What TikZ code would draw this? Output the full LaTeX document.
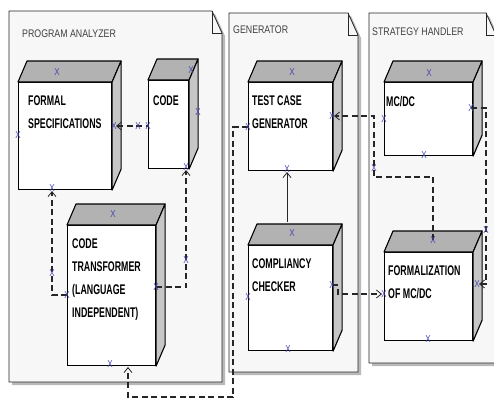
\documentclass[tikz,border=0pt]{standalone}
\usepackage{fontspec}
\setmainfont[FakeStretch=0.8, BoldFeatures={FakeStretch=0.63}]{Liberation Sans}
\usepackage{xcolor}
\usepackage{tikz}
\usetikzlibrary{arrows.meta}

\definecolor{portblue}{RGB}{70,70,175}
\tikzset{
  pkg/.style={draw=black!85, line width=0.8pt, fill=gray!6},
  pkgshadow/.style={fill=gray!55},
  pkgname/.style={anchor=west, inner sep=0, text=black!75, font=\fontsize{11}{13}\selectfont},
  front/.style={draw=black, line width=1.1pt, fill=white, inner sep=0, anchor=north west},
  topface/.style={draw=black, line width=1.1pt, fill=gray!60, line join=round},
  sideface/.style={draw=black, line width=1.1pt, fill=gray!45, line join=round},
  boxname/.style={anchor=north west, inner sep=0, align=left, text=black, font=\bfseries\fontsize{14}{23}\selectfont},
  port/.style={inner sep=0, text=portblue, font=\fontsize{10}{10}\selectfont},
  dep/.style={draw=black!85, line width=1.3pt, dash pattern=on 6pt off 3.5pt},
  link/.style={draw=black!85, line width=1pt},
  >={Straight Barb[length=5pt,width=8pt,line width=0.8pt]}
}

\begin{document}
\begin{tikzpicture}[x=1pt,y=-1pt]
\clip (0,0) rectangle (494,399);
\fill[white] (0,0) rectangle (494,399);

\foreach \xa/\ya/\xb/\yb in {9/11/222/382, 229/13/358/372, 369/13/496/363}{
  \fill[pkgshadow, shift={(3,3)}] (\xa,\ya) -- (\xb-10,\ya) -- (\xb,\ya+22) -- (\xb,\yb) -- (\xa,\yb) -- cycle;
  \draw[pkg] (\xa,\ya) -- (\xb-10,\ya) -- (\xb,\ya+22) -- (\xb,\yb) -- (\xa,\yb) -- cycle;
  \draw[pkg, fill=none] (\xb-10,\ya) -- (\xb-10,\ya+22) -- (\xb,\ya+22);
}
\node[pkgname] (pa-name) at (22,34) {PROGRAM ANALYZER};
\node[pkgname] (pg-name) at (233,30) {GENERATOR};
\node[pkgname] (ps-name) at (372,32) {STRATEGY HANDLER};

\node[front, minimum width=93pt, minimum height=107pt] (fs) at (18,82) {};
\node[front, minimum width=40pt, minimum height=88pt] (code) at (148,80) {};
\node[front, minimum width=88pt, minimum height=140pt] (ct) at (67,225) {};
\node[front, minimum width=84pt, minimum height=88pt] (tcg) at (248,82) {};
\node[front, minimum width=84pt, minimum height=105pt] (cc) at (248,245) {};
\node[front, minimum width=88pt, minimum height=73pt] (mcdc) at (384,82) {};
\node[front, minimum width=88pt, minimum height=88pt] (form) at (384,252) {};

\foreach \n in {fs,code,ct,tcg,cc,mcdc,form}{
  \draw[topface] (\n.north west) -- ++(9,-21) -- ([shift={(9,-21)}]\n.north east) -- (\n.north east) -- cycle;
  \draw[sideface] (\n.north east) -- ++(9,-21) -- ([shift={(9,-21)}]\n.south east) -- (\n.south east) -- cycle;
}

\node[boxname] (fs-name) at (28,96) {FORMAL\\SPECIFICATIONS};
\node[boxname] (code-name) at (153,96) {CODE};
\node[boxname] (ct-name) at (72,239) {CODE\\TRANSFORMER\\(LANGUAGE\\INDEPENDENT)};
\node[boxname] (tcg-name) at (252,96) {TEST CASE\\GENERATOR};
\node[boxname] (cc-name) at (252,259) {COMPLIANCY\\CHECKER};
\node[boxname] (mcdc-name) at (386,96) {MC/DC};
\node[boxname] (form-name) at (388,266) {FORMALIZATION\\OF MC/DC};

\foreach \p/\x/\y in {fs-t/57/72, fs-l/18/135, fs-r/114/126, fs-b/52/188,
    code-t/191/70, code-l/148/126, code-r/198/112, code-b/186/167,
    ct-t/113/214, ct-l/67/295, ct-r/156/287, ct-b/110/364,
    tcg-t/292/72, tcg-l/248/127, tcg-r/332/116, tcg-b/287/169,
    cc-t/292/233, cc-l/248/297, cc-r/332/285, cc-b/288/349,
    mcdc-t/429/73, mcdc-l/384/119, mcdc-r/471/108, mcdc-b/424/155,
    form-t/433/240, form-l/384/294, form-r/477/284, form-b/428/339,
    m1/138/126, m2/52/273, m3/186/260, m4/374/168, m5/486/230}{
  \node[port] (\p) at (\x,\y) {};
}
\coordinate (ct-in) at (128,367);
\coordinate (cc-top) at (287,222);

\draw[dep,<-, shorten <=2pt] (fs-r.center) -- (code-l.center);
\draw[dep,->, shorten >=3pt] (ct-l.center) -| (fs-b.center);
\draw[dep,->, shorten >=3pt] (ct-r.center) -| (code-b.center);
\draw[dep,->] (tcg-l.center) -- (233,127) -- (233,397) -| (ct-in);
\draw[link,->, shorten >=3pt] (cc-top) -- (tcg-b.center);
\draw[dep,->, shorten >=2pt] (form-t.center) |- (374,177) -- (374,116) -- (tcg-r.center);
\draw[dep,->, shorten >=2pt] (cc-r.center) -- ++(6,0) |- (form-l.center);
\draw[dep,->, shorten >=2pt] (mcdc-r.center) -| (486,200) |- (form-r.center);

\foreach \p in {fs-t,fs-l,fs-r,fs-b,code-t,code-l,code-r,code-b,ct-t,ct-l,ct-r,ct-b,
    tcg-t,tcg-l,tcg-r,tcg-b,cc-t,cc-l,cc-r,cc-b,mcdc-t,mcdc-l,mcdc-r,mcdc-b,
    form-t,form-l,form-r,form-b,m1,m2,m3,m4,m5}{
  \node[port] at (\p.center) {X};
}
\end{tikzpicture}
\end{document}
